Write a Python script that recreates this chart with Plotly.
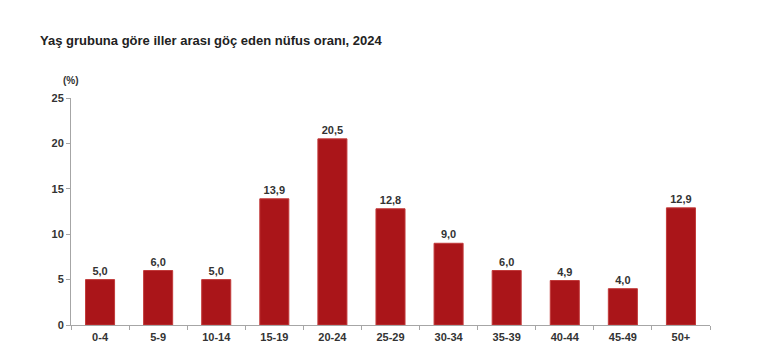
import plotly.graph_objects as go

categories = ["0-4", "5-9", "10-14", "15-19", "20-24", "25-29", "30-34", "35-39", "40-44", "45-49", "50+"]
values = [5.0, 6.0, 5.0, 13.9, 20.5, 12.8, 9.0, 6.0, 4.9, 4.0, 12.9]
y_ticks = [0, 5, 10, 15, 20, 25]

labels = [f"{v:.1f}".replace(".", ",") for v in values]

W, H = 746, 341

fig = go.Figure(go.Bar(
    x=categories, y=values,
    text=labels, textposition="outside", cliponaxis=False,
    textfont=dict(family="Liberation Sans, Arial", size=11, color="#333333", weight="bold"),
    marker=dict(color="#AA1519", line=dict(color="#C23A3A", width=1)),
))

fig.update_layout(
    width=W, height=H,
    margin=dict(l=63, r=44, t=90, b=24),
    paper_bgcolor="white", plot_bgcolor="white",
    bargap=0.5,
    showlegend=False,
    font=dict(family="Liberation Sans, Arial", size=11, color="#333333"),
    title=dict(text="<b>Yaş grubuna göre iller arası göç eden nüfus oranı, 2024</b>",
               x=32/W, xanchor="left", y=1-32/H, yanchor="middle",
               font=dict(size=13, color="#222222")),
    annotations=[dict(text="<b>(%)</b>", xref="paper", yref="paper", x=0, y=1,
                      xanchor="center", yanchor="bottom", yshift=10, showarrow=False,
                      font=dict(size=10, color="#333333"))],
)
fig.update_yaxes(range=[0, 25], tickvals=y_ticks, showgrid=False, zeroline=False,
                 automargin=False,
                 showline=True, linecolor="#A6A6A6", linewidth=1,
                 ticks="outside", ticklen=4, tickcolor="#A6A6A6",
                 tickfont=dict(size=11, color="#333333", weight="bold"))
fig.update_xaxes(showgrid=False, showline=True, linecolor="#A6A6A6", linewidth=1,
                 automargin=False,
                 ticks="outside", tickson="boundaries", ticklen=4, tickcolor="#A6A6A6",
                 ticklabelstandoff=2,
                 tickfont=dict(size=11, color="#333333", weight="bold"))

fig.write_html("out.html")
